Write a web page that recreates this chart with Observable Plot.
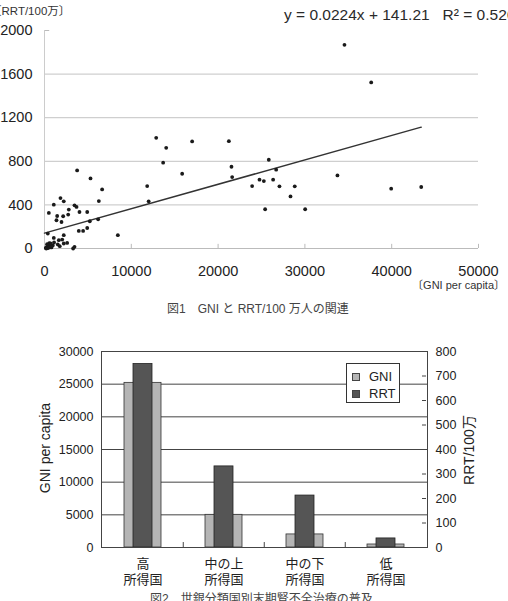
<!DOCTYPE html>
<html>
<head>
<meta charset="utf-8">
<script src="https://cdn.jsdelivr.net/npm/d3@7"></script>
<script src="https://cdn.jsdelivr.net/npm/@observablehq/plot@0.6"></script>
<style>
  html, body { margin: 0; padding: 0; background: #fff; }
  #page { position: relative; width: 508px; height: 601px; overflow: hidden; background: #fff;
          font-family: "Liberation Sans", "Noto Sans CJK JP", sans-serif; }
  .abs { position: absolute; white-space: pre; line-height: 1; }
  .rot { transform: translate(-50%, -50%) rotate(-90deg); }
  #legend { position: absolute; left: 346px; top: 363px; width: 54px; height: 40px;
            border: 1px solid #333; background: #fff; box-sizing: border-box; }
  .lg-row { position: absolute; left: 5px; font-size: 13px; color: #222; line-height: 1; }
  .sw { display: inline-block; width: 8px; height: 8px; border: 1px solid #444; box-sizing: border-box;
        margin-right: 9px; vertical-align: 0px; }
</style>
</head>
<body>
<div id="page">
  <div id="c1" class="abs" style="left:0;top:0"></div>
  <div id="c2" class="abs" style="left:0;top:330px"></div>

  <div class="abs" id="ylab1" style="left:-10px;top:6px;font-size:11.5px;color:#333">〔RRT/100万〕</div>
  <div class="abs" id="eq" style="left:284px;top:7px;font-size:15.5px;color:#2a2a2a"></div>
  <div class="abs" id="xlab1" style="right:3px;top:280px;font-size:11px;color:#333">〔GNI per capita〕</div>
  <div class="abs" id="cap1" style="left:167px;top:303px;font-size:12px;color:#444">図1　GNI と RRT/100 万人の関連</div>

  <div class="abs rot" id="ylab2" style="left:45px;top:448px;font-size:14px;color:#222">GNI per capita</div>
  <div class="abs rot" id="ylab2r" style="left:469px;top:450px;font-size:14px;color:#222">RRT/100万</div>
  <div id="legend">
    <div class="lg-row" style="top:6px"><span class="sw" id="swG"></span>GNI</div>
    <div class="lg-row" style="top:23px"><span class="sw" id="swR"></span>RRT</div>
  </div>
  <div class="abs" id="cap2" style="left:150px;top:593px;font-size:12px;color:#444">図2　世銀分類国別末期腎不全治療の普及</div>
</div>

<script>
// ---------- Figure 1: scatter of GNI per capita vs RRT per million ----------
const scatterGni = [150, 250, 350, 420, 500, 600, 700, 300, 800, 950, 1100, 200, 550, 690, 380,
  500, 1070, 1070, 1530, 1650, 1760, 1840, 1960, 1380, 2040, 2150, 2220, 2220, 2220, 2610,
  2730, 2800, 3300, 3460, 3460, 3690, 3760, 3950, 4030, 4450, 4920, 4920, 5220, 5300, 6180,
  6260, 6640, 8450, 11830, 12000, 12870, 13670, 14020, 15860, 17010, 21240, 21540, 21620, 23920, 24770,
  25270, 25420, 25840, 26340, 26690, 27070, 28340, 28830, 30030, 33750, 34560, 37640, 39940, 43400, 1460];
const scatterRrt = [5, 12, 3, 25, 8, 18, 35, 40, 10, 28, 55, 0, 50, 46, 137,
  326, 402, 97, 37, 76, 21, 463, 243, 259, 82, 296, 433, 122, 46, 51,
  311, 357, 0, 15, 396, 381, 716, 161, 335, 161, 335, 188, 250, 643, 268,
  435, 542, 122, 573, 433, 1015, 787, 924, 686, 982, 985, 750, 655, 573, 631,
  619, 360, 814, 631, 723, 570, 478, 570, 360, 670, 1869, 1524, 549, 564, 298];
const fitSlope = 0.0224;
const fitIntercept = 141.21;
const fitR2 = 0.526;
const scatterXTicks = [0, 10000, 20000, 30000, 40000, 50000];
const scatterYTicks = [0, 400, 800, 1200, 1600, 2000];

// ---------- Figure 2: by World Bank income group ----------
const incomeGroups = ["高\n所得国", "中の上\n所得国", "中の下\n所得国", "低\n所得国"];
const groupGni = [25200, 5000, 2000, 460];
const groupRrt = [749, 331, 212, 37];
const gniTicks = [0, 5000, 10000, 15000, 20000, 25000, 30000];
const rrtTicks = [0, 100, 200, 300, 400, 500, 600, 700, 800];

const gniColor = "#b5b5b5", rrtColor = "#555555";
const fontFam = '"Liberation Sans", "Noto Sans CJK JP", sans-serif';

document.getElementById("eq").textContent =
  `y = ${fitSlope}x + ${fitIntercept}\u00a0\u00a0\u00a0R² = ${fitR2}`;
document.getElementById("swG").style.background = gniColor;
document.getElementById("swR").style.background = rrtColor;

const pts = scatterGni.map((g, i) => ({gni: g, rrt: scatterRrt[i]}));
const xHi = d3.max(scatterGni);
const fit = [0, xHi].map(x => ({gni: x, rrt: fitSlope * x + fitIntercept}));

const chart1 = Plot.plot({
  width: 508, height: 292,
  marginLeft: 44, marginRight: 30, marginTop: 30, marginBottom: 44,
  style: `background: transparent; font-family: ${fontFam}; font-size: 14.5px; color: #222; overflow: visible;`,
  x: {domain: [scatterXTicks[0], scatterXTicks[scatterXTicks.length - 1]]},
  y: {domain: [scatterYTicks[0], scatterYTicks[scatterYTicks.length - 1]]},
  marks: [
    Plot.ruleY(scatterYTicks.slice(1, -1), {stroke: "#cfcfcf", strokeWidth: 1.3}),
    Plot.ruleY(scatterYTicks.slice(-1), {x1: scatterXTicks[0], x2: 600, stroke: "#bbb"}),
    Plot.ruleY(scatterYTicks.slice(0, 1), {stroke: "#bbb"}),
    Plot.ruleX(scatterXTicks.slice(0, 1), {stroke: "#ccc"}),
    Plot.ruleX(scatterXTicks.slice(1), {y1: 0, y2: 38, stroke: "#bbb"}),
    Plot.axisY({ticks: scatterYTicks, tickSize: 0, tickPadding: 12, label: null, tickFormat: d3.format("d"), fill: "#222"}),
    Plot.axisX({ticks: scatterXTicks, tickSize: 0, tickPadding: 17, label: null, tickFormat: d3.format("d"), fill: "#222"}),
    Plot.line(fit, {x: "gni", y: "rrt", stroke: "#333", strokeWidth: 1.5}),
    Plot.dot(pts, {x: "gni", y: "rrt", r: 1.9, fill: "#1a1a1a", stroke: "none"})
  ]
});
document.getElementById("c1").appendChild(chart1);

const k = gniTicks[gniTicks.length - 1] / rrtTicks[rrtTicks.length - 1];
const bars = incomeGroups.map((g, i) => ({group: g, gni: groupGni[i], rrt: groupRrt[i]}));

const chart2 = Plot.plot({
  width: 508, height: 271,
  marginLeft: 101, marginRight: 81, marginTop: 21, marginBottom: 54,
  style: `background: transparent; font-family: ${fontFam}; font-size: 12.5px; color: #222; overflow: visible;`,
  x: {domain: incomeGroups, padding: 0, axis: null},
  y: {domain: [gniTicks[0], gniTicks[gniTicks.length - 1]]},
  marks: [
    Plot.ruleY(gniTicks, {stroke: "#444", strokeWidth: 1}),
    Plot.barY(bars, {x: "group", y: "gni", fill: gniColor, stroke: "#333", strokeWidth: 0.8, insetLeft: 22, insetRight: 22}),
    Plot.barY(bars, {x: "group", y: d => d.rrt * k, fill: rrtColor, stroke: "#222", strokeWidth: 0.8, insetLeft: 31, insetRight: 31}),
    Plot.frame({stroke: "#444"}),
    Plot.ruleX(incomeGroups.slice(1), {x: d => d, y1: 0, y2: 760, dx: -40.75, stroke: "#444"}),
    Plot.tickY(rrtTicks, {y: d => d * k, x: () => incomeGroups[incomeGroups.length - 1], insetLeft: 77, stroke: "#444"}),
    Plot.axisY({anchor: "left", ticks: gniTicks, tickSize: 0, tickPadding: 8, label: null, tickFormat: d3.format("d"), fill: "#222"}),
    Plot.axisY({anchor: "right", ticks: rrtTicks.map(d => d * k), tickSize: 0, tickPadding: 8, label: null,
      tickFormat: d => String(Math.round(d / k)), fill: "#222"}),
    Plot.text(incomeGroups, {x: d => d, frameAnchor: "bottom", lineAnchor: "top", dy: 9, fontSize: 13, lineHeight: 1.23, fill: "#222"})
  ]
});
document.getElementById("c2").appendChild(chart2);
</script>
</body>
</html>
